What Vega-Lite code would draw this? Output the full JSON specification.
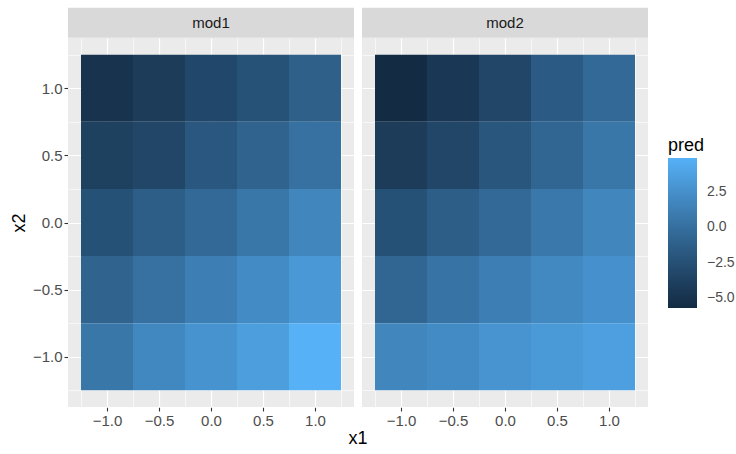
{
  "$schema": "https://vega.github.io/schema/vega-lite/v6.json",
  "padding": {"left": 10, "top": 7, "right": 5, "bottom": 3},
  "background": "white",
  "data": {"values": [
    {"model":"mod1","x1":-1,"x2":1,"pred":-5.0},{"model":"mod1","x1":-0.5,"x2":1,"pred":-4.2},{"model":"mod1","x1":0,"x2":1,"pred":-3.2},{"model":"mod1","x1":0.5,"x2":1,"pred":-2.3},{"model":"mod1","x1":1,"x2":1,"pred":-1.2},
    {"model":"mod1","x1":-1,"x2":0.5,"pred":-3.8},{"model":"mod1","x1":-0.5,"x2":0.5,"pred":-3.3},{"model":"mod1","x1":0,"x2":0.5,"pred":-1.9},{"model":"mod1","x1":0.5,"x2":0.5,"pred":-0.9},{"model":"mod1","x1":1,"x2":0.5,"pred":0.1},
    {"model":"mod1","x1":-1,"x2":0,"pred":-2.4},{"model":"mod1","x1":-0.5,"x2":0,"pred":-1.4},{"model":"mod1","x1":0,"x2":0,"pred":-0.5},{"model":"mod1","x1":0.5,"x2":0,"pred":0.6},{"model":"mod1","x1":1,"x2":0,"pred":1.8},
    {"model":"mod1","x1":-1,"x2":-0.5,"pred":-0.9},{"model":"mod1","x1":-0.5,"x2":-0.5,"pred":0.1},{"model":"mod1","x1":0,"x2":-0.5,"pred":1.2},{"model":"mod1","x1":0.5,"x2":-0.5,"pred":2.1},{"model":"mod1","x1":1,"x2":-0.5,"pred":3.1},
    {"model":"mod1","x1":-1,"x2":-1,"pred":0.6},{"model":"mod1","x1":-0.5,"x2":-1,"pred":1.9},{"model":"mod1","x1":0,"x2":-1,"pred":2.7},{"model":"mod1","x1":0.5,"x2":-1,"pred":3.5},{"model":"mod1","x1":1,"x2":-1,"pred":4.9},
    {"model":"mod2","x1":-1,"x2":1,"pred":-5.7},{"model":"mod2","x1":-0.5,"x2":1,"pred":-4.5},{"model":"mod2","x1":0,"x2":1,"pred":-3.3},{"model":"mod2","x1":0.5,"x2":1,"pred":-1.6},{"model":"mod2","x1":1,"x2":1,"pred":-0.5},
    {"model":"mod2","x1":-1,"x2":0.5,"pred":-4.2},{"model":"mod2","x1":-0.5,"x2":0.5,"pred":-3.3},{"model":"mod2","x1":0,"x2":0.5,"pred":-2.0},{"model":"mod2","x1":0.5,"x2":0.5,"pred":-0.7},{"model":"mod2","x1":1,"x2":0.5,"pred":0.6},
    {"model":"mod2","x1":-1,"x2":0,"pred":-2.4},{"model":"mod2","x1":-0.5,"x2":0,"pred":-1.4},{"model":"mod2","x1":0,"x2":0,"pred":-0.5},{"model":"mod2","x1":0.5,"x2":0,"pred":0.7},{"model":"mod2","x1":1,"x2":0,"pred":1.8},
    {"model":"mod2","x1":-1,"x2":-0.5,"pred":-0.7},{"model":"mod2","x1":-0.5,"x2":-0.5,"pred":0.3},{"model":"mod2","x1":0,"x2":-0.5,"pred":1.2},{"model":"mod2","x1":0.5,"x2":-0.5,"pred":2.0},{"model":"mod2","x1":1,"x2":-0.5,"pred":2.6},
    {"model":"mod2","x1":-1,"x2":-1,"pred":1.8},{"model":"mod2","x1":-0.5,"x2":-1,"pred":2.1},{"model":"mod2","x1":0,"x2":-1,"pred":2.8},{"model":"mod2","x1":0.5,"x2":-1,"pred":3.2},{"model":"mod2","x1":1,"x2":-1,"pred":3.6}
  ]},
  "facet": {"column": {"field": "model", "type": "nominal", "title": "x1",
    "header": {"labels": false, "titleOrient": "bottom", "titleFontSize": 18, "titleFontWeight": "normal", "titleColor": "#000000", "titlePadding": -8}}},
  "spacing": 8,
  "spec": {
    "width": 286,
    "height": 369,
    "resolve": {"axis": {"x": "independent", "y": "independent"}},
    "layer": [
      {
        "transform": [
          {"calculate": "datum.x1 - 0.25", "as": "x1lo"},
          {"calculate": "datum.x1 + 0.25", "as": "x1hi"},
          {"calculate": "datum.x2 - 0.25", "as": "x2lo"},
          {"calculate": "datum.x2 + 0.25", "as": "x2hi"}
        ],
        "mark": {"type": "rect", "strokeWidth": 0},
        "encoding": {
          "x": {"field": "x1lo", "type": "quantitative", "title": null,
            "scale": {"domain": [-1.375, 1.375], "nice": false, "zero": false},
            "axis": {"values": [-1, -0.5, 0, 0.5, 1], "format": ".1f", "gridWidth": 1.2}},
          "x2": {"field": "x1hi"},
          "y": {"field": "x2lo", "type": "quantitative", "title": "x2",
            "scale": {"domain": [-1.375, 1.375], "nice": false, "zero": false},
            "axis": {"values": [-1, -0.5, 0, 0.5, 1], "format": ".1f", "gridWidth": 1.2}},
          "y2": {"field": "x2hi"},
          "color": {"field": "pred", "type": "quantitative", "title": "pred",
            "scale": {"domain": [-5.7, 4.9], "range": ["#132B43", "#56B1F7"], "interpolate": "lab", "nice": false, "zero": false},
            "legend": {"orient": "none", "legendX": 600, "legendY": 99, "direction": "vertical",
              "values": [-5, -2.5, 0, 2.5], "format": ".1f", "gradientLength": 150, "gradientThickness": 29,
              "gradientStrokeWidth": 0, "titleFontSize": 18, "titleFontWeight": "normal", "titleColor": "#000000",
              "labelFontSize": 14, "labelColor": "#4D4D4D", "titlePadding": 3, "labelOffset": 10}}
        }
      },
      {
        "transform": [{"filter": "datum.x1 == 0 && datum.x2 == 0"}],
        "mark": {"type": "rect", "fill": "#D9D9D9", "clip": false},
        "encoding": {
          "x": {"datum": -1.375, "type": "quantitative",
            "axis": {"values": [-1.25, -0.75, -0.25, 0.25, 0.75, 1.25], "grid": true, "gridWidth": 0.6, "labels": false, "ticks": false, "title": null, "domain": false}},
          "x2": {"datum": 1.375},
          "y": {"datum": 1.377, "type": "quantitative",
            "axis": {"values": [-1.25, -0.75, -0.25, 0.25, 0.75, 1.25], "grid": true, "gridWidth": 0.6, "labels": false, "ticks": false, "title": null, "domain": false}},
          "y2": {"datum": 1.6}
        }
      },
      {
        "transform": [{"filter": "datum.x1 == 0 && datum.x2 == 0"}],
        "mark": {"type": "text", "fontSize": 15, "color": "#1A1A1A", "font": "Liberation Sans", "clip": false, "baseline": "middle"},
        "encoding": {
          "x": {"datum": 0, "type": "quantitative", "axis": null},
          "y": {"datum": 1.4875, "type": "quantitative", "axis": null},
          "text": {"field": "model"}
        }
      }
    ]
  },
  "config": {
    "font": "Liberation Sans",
    "view": {"fill": "#EBEBEB", "stroke": null},
    "axis": {
      "domain": false, "gridColor": "#FFFFFF", "tickColor": "#333333", "tickSize": 4, "tickWidth": 1.1,
      "labelColor": "#4D4D4D", "labelFontSize": 15, "labelPadding": 2,
      "titleFontSize": 18, "titleFontWeight": "normal", "titleColor": "#000000"
    },
    "axisY": {"titlePadding": 4}
  }
}
